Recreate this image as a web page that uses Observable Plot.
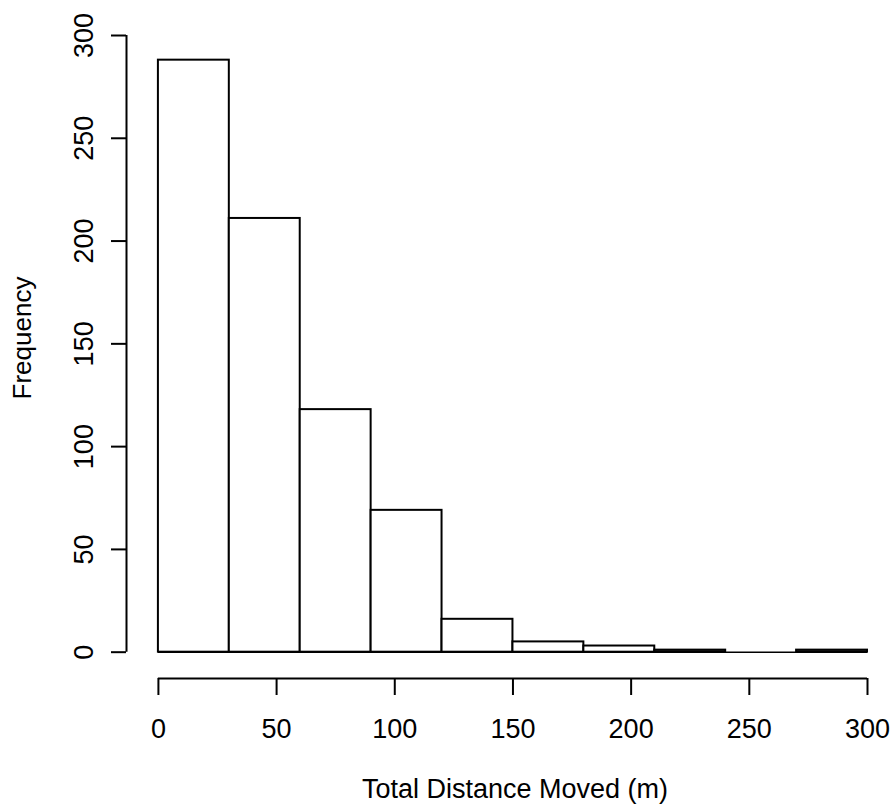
<!DOCTYPE html>
<html>
<head>
<meta charset="utf-8">
<script src="https://cdn.jsdelivr.net/npm/d3@7"></script>
<script src="https://cdn.jsdelivr.net/npm/@observablehq/plot@0.6"></script>
<style>
  body { margin: 0; background: #fff; }
  #chart svg { display: block; }
</style>
</head>
<body>
<div id="chart"></div>
<script>
// Histogram data
const binEdges = [0, 30, 60, 90, 120, 150, 180, 210, 240, 270, 300];
const counts = [288, 211, 118, 69, 16, 5, 3, 1, 0, 1];
const xTicks = [0, 50, 100, 150, 200, 250, 300];
const yTicks = [0, 50, 100, 150, 200, 250, 300];
const xLabel = "Total Distance Moved (m)";
const yLabel = "Frequency";

const bars = counts.map((c, i) => ({ x1: binEdges[i], x2: binEdges[i + 1], count: c }));

// R-style offset axes: plot region extends a bit beyond the data
const xMin = -13.5, xMax = 300;
const yMin = -12.8, yMax = 300;

const chart = Plot.plot({
  width: 895,
  height: 805,
  marginLeft: 126,
  marginRight: 28,
  marginTop: 35,
  marginBottom: 127,
  style: { fontFamily: "'Liberation Sans', Arial, Helvetica, sans-serif", color: "#000", background: "#fff", overflow: "visible" },
  x: { domain: [xMin, xMax], axis: null },
  y: { domain: [yMin, yMax], axis: null },
  marks: [
    // baseline under all bins (R draws zero-height bins as a line)
    Plot.ruleY([0], { x1: binEdges[0], x2: binEdges[binEdges.length - 1], stroke: "#000", strokeWidth: 1.5 }),
    Plot.rectY(bars, { x1: "x1", x2: "x2", y: "count", fill: "#fff", stroke: "#000", strokeWidth: 2, inset: 0 }),
    // x axis line and ticks
    Plot.ruleY([yMin], { x1: binEdges[0], x2: binEdges[binEdges.length - 1], stroke: "#000", strokeWidth: 2 }),
    Plot.axisX({ ticks: xTicks, tickSize: 17, tickPadding: 23, fontSize: 27, label: null, stroke: "#000", strokeWidth: 2, fill: "#000", anchor: "bottom" }),
    // y axis line and ticks
    Plot.ruleX([xMin], { y1: yTicks[0], y2: yTicks[yTicks.length - 1], stroke: "#000", strokeWidth: 2 }),
    Plot.axisY({ ticks: yTicks, tickSize: 15, tickFormat: () => "", label: null, stroke: "#000", strokeWidth: 2, anchor: "left" }),
    Plot.text(yTicks, { y: d => d, text: d => String(d), frameAnchor: "left", textAnchor: "middle", dx: -42, rotate: -90, fontSize: 27, fill: "#000", lineAnchor: "middle" }),
    // axis titles
    Plot.text([xLabel], { text: d => d, frameAnchor: "bottom", textAnchor: "middle", dx: 18, dy: 111, fontSize: 27, fill: "#000", lineAnchor: "middle" }),
    Plot.text([yLabel], { text: d => d, frameAnchor: "left", textAnchor: "middle", dx: -104, dy: -19, rotate: -90, fontSize: 26, fill: "#000", lineAnchor: "middle" })
  ]
});
document.getElementById("chart").appendChild(chart);
</script>
</body>
</html>
